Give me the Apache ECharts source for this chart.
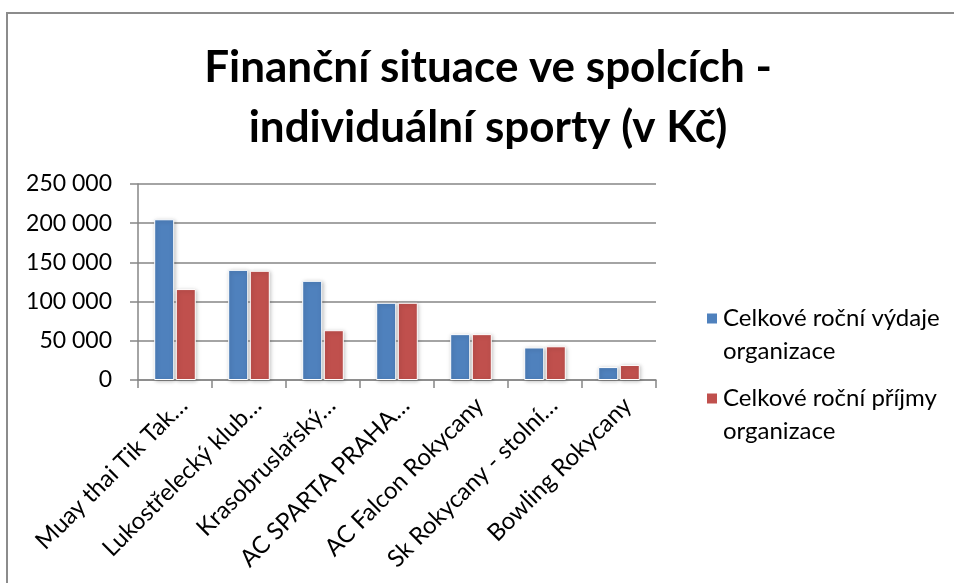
<!DOCTYPE html>
<html>
<head>
<meta charset="utf-8">
<script src="https://cdn.jsdelivr.net/npm/echarts@6/dist/echarts.min.js"></script>
<style>
    html, body { margin: 0; padding: 0; background: #fff; }
    #chart { width: 954px; height: 583px; }
</style>
</head>
<body>
<div id="chart"></div>
<script>
// spolky (popisky zkrácené jako v originále)
const categories = [
    'Muay thai Tik Tak…',
    'Lukostřelecký klub…',
    'Krasobruslařský…',
    'AC SPARTA PRAHA…',
    'AC Falcon Rokycany',
    'Sk Rokycany - stolní…',
    'Bowling Rokycany'
];
const vydaje = [205000, 140500, 126500, 98500, 58500, 41500, 16500];
const prijmy = [116000, 139300, 63500, 98500, 58500, 43000, 19200];
const seriesNames = ['Celkové roční výdaje organizace', 'Celkové roční příjmy organizace'];
const legendLabels = ['Celkové roční výdaje\norganizace', 'Celkové roční příjmy\norganizace'];

const font = 'Lato';
const gray = '#868686';

let myChart = echarts.init(document.getElementById('chart'));

const barStyle = (color) => ({
    color: color,
    borderColor: '#fff',
    borderWidth: 1,
    shadowBlur: 4,
    shadowColor: 'rgba(0,0,0,0.25)',
    shadowOffsetX: 1,
    shadowOffsetY: 1
});

let option = {
    animation: false,
    textStyle: { fontFamily: font },
    title: {
        text: 'Finanční situace ve spolcích -\nindividuální sporty (v Kč)',
        left: 488,
        top: 38,
        textAlign: 'center',
        padding: 0,
        textStyle: {
            fontFamily: font,
            fontWeight: 'bold',
            fontSize: 44,
            lineHeight: 60,
            color: '#000'
        }
    },
    graphic: [{
        type: 'rect',
        shape: { x: 7, y: 13, width: 1000, height: 1000 },
        style: { fill: 'none', stroke: '#8c8c8c', lineWidth: 2 },
        silent: true
    }],
    legend: {
        orient: 'vertical',
        left: 700,
        top: 297,
        itemWidth: 12,
        itemHeight: 45,
        itemGap: 14,
        // čtvereček nahoře, aby seděl s prvním řádkem textu
        icon: 'path://M0,0h12v12h-12z M0,45',
        formatter: (name) => legendLabels[seriesNames.indexOf(name)],
        textStyle: {
            fontFamily: font,
            fontSize: 24,
            lineHeight: 33,
            color: '#000'
        },
        data: seriesNames
    },
    grid: {
        left: 138,
        right: 298,
        top: 184,
        bottom: 203
    },
    xAxis: {
        type: 'category',
        data: categories,
        axisLine: { lineStyle: { color: gray, width: 1.5 } },
        axisTick: { show: true, length: 8, lineStyle: { color: gray, width: 1.5 } },
        axisLabel: {
            interval: 0,
            rotate: 45,
            margin: 13,
            verticalAlign: 'top',
            color: '#000',
            fontSize: 24,
            fontFamily: font
        }
    },
    yAxis: {
        type: 'value',
        min: 0,
        max: 250000,
        interval: 50000,
        axisLine: { show: true, lineStyle: { color: gray, width: 1.5 } },
        axisTick: { show: true, length: 8, lineStyle: { color: gray, width: 1.5 } },
        splitLine: { lineStyle: { color: gray, width: 1.5 } },
        axisLabel: {
            margin: 26,
            color: '#000',
            fontSize: 23,
            fontFamily: font,
            formatter: (value) => String(value).replace(/\B(?=(\d{3})+(?!\d))/g, ' ')
        }
    },
    series: [
        {
            name: seriesNames[0],
            type: 'bar',
            barWidth: 20,
            barGap: '8%',
            data: vydaje,
            itemStyle: barStyle('#4f81bd')
        },
        {
            name: seriesNames[1],
            type: 'bar',
            barWidth: 20,
            barGap: '8%',
            data: prijmy,
            itemStyle: barStyle('#c0504d')
        }
    ]
};
myChart.setOption(option);
</script>
</body>
</html>
